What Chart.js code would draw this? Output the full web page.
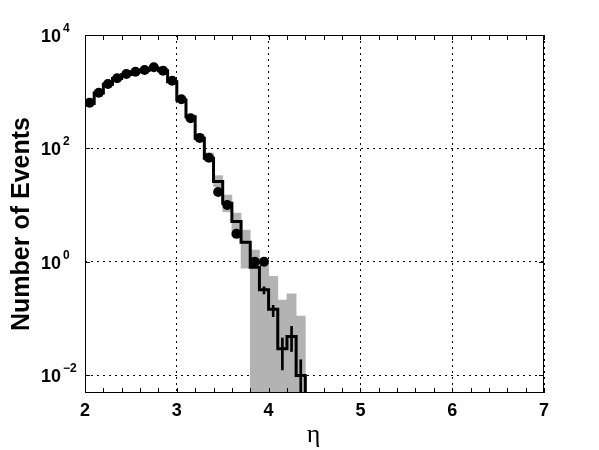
<!DOCTYPE html>
<html>
<head>
<meta charset="utf-8">
<script src="https://cdn.jsdelivr.net/npm/chart.js@4.4.1/dist/chart.umd.min.js"></script>
<style>
  html, body { margin: 0; padding: 0; background: #fff; }
</style>
</head>
<body>
<canvas id="chart" width="599" height="450"></canvas>
<script>
// ===== Values =====
const etaCenters = [2.05, 2.15, 2.25, 2.35, 2.45, 2.55, 2.65, 2.75, 2.85, 2.95,
                    3.05, 3.15, 3.25, 3.35, 3.45, 3.55, 3.65, 3.75, 3.85, 3.95,
                    4.05, 4.15, 4.25, 4.35];
const dataCounts = [640, 960, 1370, 1720, 2050, 2250, 2420, 2690, 2350, 1560,
                    735, 339, 153, 68, 17, 10, 3.1, null, 1.0, 1.0,
                    null, null, null, null];
const mcCounts   = [620, 950, 1350, 1700, 2000, 2250, 2400, 2600, 2350, 1500,
                    710, 360, 150, 67, 26, 10.7, 5.1, 2.2, 0.8, 0.32,
                    0.145, 0.029, 0.048, 0.0098];
const bandLow    = [585, 900, 1280, 1610, 1900, 2130, 2280, 2470, 2230, 1420,
                    670, 335, 138, 60, 21, 7.6, 2.8, 0.77, 0.001, 0.001,
                    0.001, 0.001, 0.001, 0.001];
const bandHigh   = [660, 1000, 1420, 1790, 2100, 2370, 2520, 2730, 2470, 1580,
                    750, 390, 165, 83, 33, 15, 7.2, 3.6, 1.6, 0.93,
                    0.55, 0.21, 0.27, 0.11];
const mcErrEta   = [3.95, 4.05, 4.15, 4.25, 4.35];
const mcErrLow   = [0.27, 0.107, 0.0123, 0.026, 0.003];
const mcErrHigh  = [0.36, 0.17, 0.045, 0.072, 0.0186];

const xTickVals = [2, 3, 4, 5, 6, 7];
const yTickVals = [0.01, 1, 100, 10000];
const binWidth = 0.1;

// step outline of the MC histogram, from the bin edges
const mcStep = etaCenters.map((c, i) => ({x: c - binWidth / 2, y: mcCounts[i]}));
const lastEdge = etaCenters[etaCenters.length - 1] + binWidth / 2;
mcStep.push({x: lastEdge, y: mcCounts[mcCounts.length - 1]});
mcStep.push({x: lastEdge, y: 1e-5});

const FONT = '"Liberation Sans", Arial, Helvetica, sans-serif';

// ===== Frame, inward ticks, tick labels and axis titles =====
const framePlugin = {
  id: 'frame',
  afterDatasetsDraw(chart) {
    const {ctx, chartArea: a, scales: {x, y}} = chart;
    ctx.save();
    ctx.strokeStyle = '#000';
    ctx.lineWidth = 1;
    ctx.beginPath();
    // x ticks every 0.2, top and bottom
    for (let i = 10; i <= 35; i++) {
      const px = Math.round(x.getPixelForValue(i / 5)) + 0.5;
      ctx.moveTo(px, a.bottom); ctx.lineTo(px, a.bottom - 5);
      ctx.moveTo(px, a.top); ctx.lineTo(px, a.top + 5);
    }
    // y ticks at labelled decades, left and right
    yTickVals.forEach(v => {
      const py = Math.round(y.getPixelForValue(v)) + 0.5;
      ctx.moveTo(a.left, py); ctx.lineTo(a.left + 5, py);
      ctx.moveTo(a.right, py); ctx.lineTo(a.right - 5, py);
    });
    ctx.stroke();
    ctx.strokeRect(a.left + 0.5, a.top + 0.5, a.right - a.left - 1, a.bottom - a.top - 1);

    ctx.fillStyle = '#000';
    // x tick labels
    ctx.font = 'bold 18px ' + FONT;
    ctx.textAlign = 'center';
    ctx.textBaseline = 'middle';
    xTickVals.forEach(v => ctx.fillText(String(v), x.getPixelForValue(v), 411));

    // y tick labels: 10 with exponent
    yTickVals.forEach(v => {
      const py = y.getPixelForValue(v);
      const e = Math.round(Math.log10(v));
      ctx.font = 'bold 18px ' + FONT;
      ctx.textAlign = 'left';
      ctx.textBaseline = 'alphabetic';
      ctx.fillText('10', 41, py + 7);
      ctx.font = 'bold 12px ' + FONT;
      ctx.fillText(e < 0 ? '\u2212' + (-e) : String(e), 63, py - 3);
    });

    // axis titles
    ctx.font = '26px "Liberation Serif", "DejaVu Serif", serif';
    ctx.textAlign = 'center';
    ctx.textBaseline = 'alphabetic';
    ctx.fillText('\u03b7', (a.left + a.right) / 2 - 1, 442);

    ctx.save();
    ctx.translate(29, 224);
    ctx.rotate(-Math.PI / 2);
    ctx.font = 'bold 25px ' + FONT;
    ctx.fillText('Number of Events', 0, 0);
    ctx.restore();
    ctx.restore();
  }
};

const ctx = document.getElementById('chart').getContext('2d');
const chart = new Chart(ctx, {
  type: 'bar',
  data: {
    datasets: [
      {
        type: 'scatter',
        label: 'Data',
        data: etaCenters.map((c, i) => ({x: c, y: dataCounts[i]})),
        pointRadius: 5,
        pointBackgroundColor: '#000',
        pointBorderWidth: 0,
        showLine: false,
        order: 1
      },
      {
        type: 'bar',
        label: 'MC stat. error',
        data: mcErrEta.map((c, i) => ({x: c, y: [mcErrLow[i], mcErrHigh[i]]})),
        backgroundColor: '#000',
        borderWidth: 0,
        barThickness: 2,
        grouped: false,
        order: 2
      },
      {
        type: 'line',
        label: 'MC',
        data: mcStep,
        stepped: true,
        borderColor: '#000',
        borderWidth: 3,
        pointRadius: 0,
        fill: false,
        order: 3
      },
      {
        type: 'bar',
        label: 'Uncertainty band',
        data: etaCenters.map((c, i) => ({x: c, y: [bandLow[i], bandHigh[i]]})),
        backgroundColor: '#b3b3b3',
        borderWidth: 0,
        barPercentage: 1,
        categoryPercentage: 1,
        grouped: false,
        order: 4
      }
    ]
  },
  options: {
    responsive: false,
    animation: false,
    events: [],
    layout: { padding: { top: 35, right: 55, left: 0, bottom: 0 } },
    plugins: {
      legend: { display: false },
      tooltip: { enabled: false }
    },
    scales: {
      x: {
        type: 'linear',
        min: 2,
        max: 7,
        offset: false,
        ticks: { display: false, stepSize: 1 },
        grid: { color: '#000', lineWidth: 1, drawTicks: false, offset: false },
        border: { display: false, dash: [2, 4] },
        afterBuildTicks: s => { s.ticks = xTickVals.map(v => ({value: v})); },
        afterFit: s => { s.height = 57; }
      },
      y: {
        type: 'logarithmic',
        min: 0.00482,
        max: 10000,
        ticks: { display: false },
        grid: { color: '#000', lineWidth: 1, drawTicks: false },
        border: { display: false, dash: [2, 4] },
        afterBuildTicks: s => { s.ticks = yTickVals.map(v => ({value: v})); },
        afterFit: s => { s.width = 85; }
      }
    }
  },
  plugins: [framePlugin]
});
</script>
</body>
</html>
